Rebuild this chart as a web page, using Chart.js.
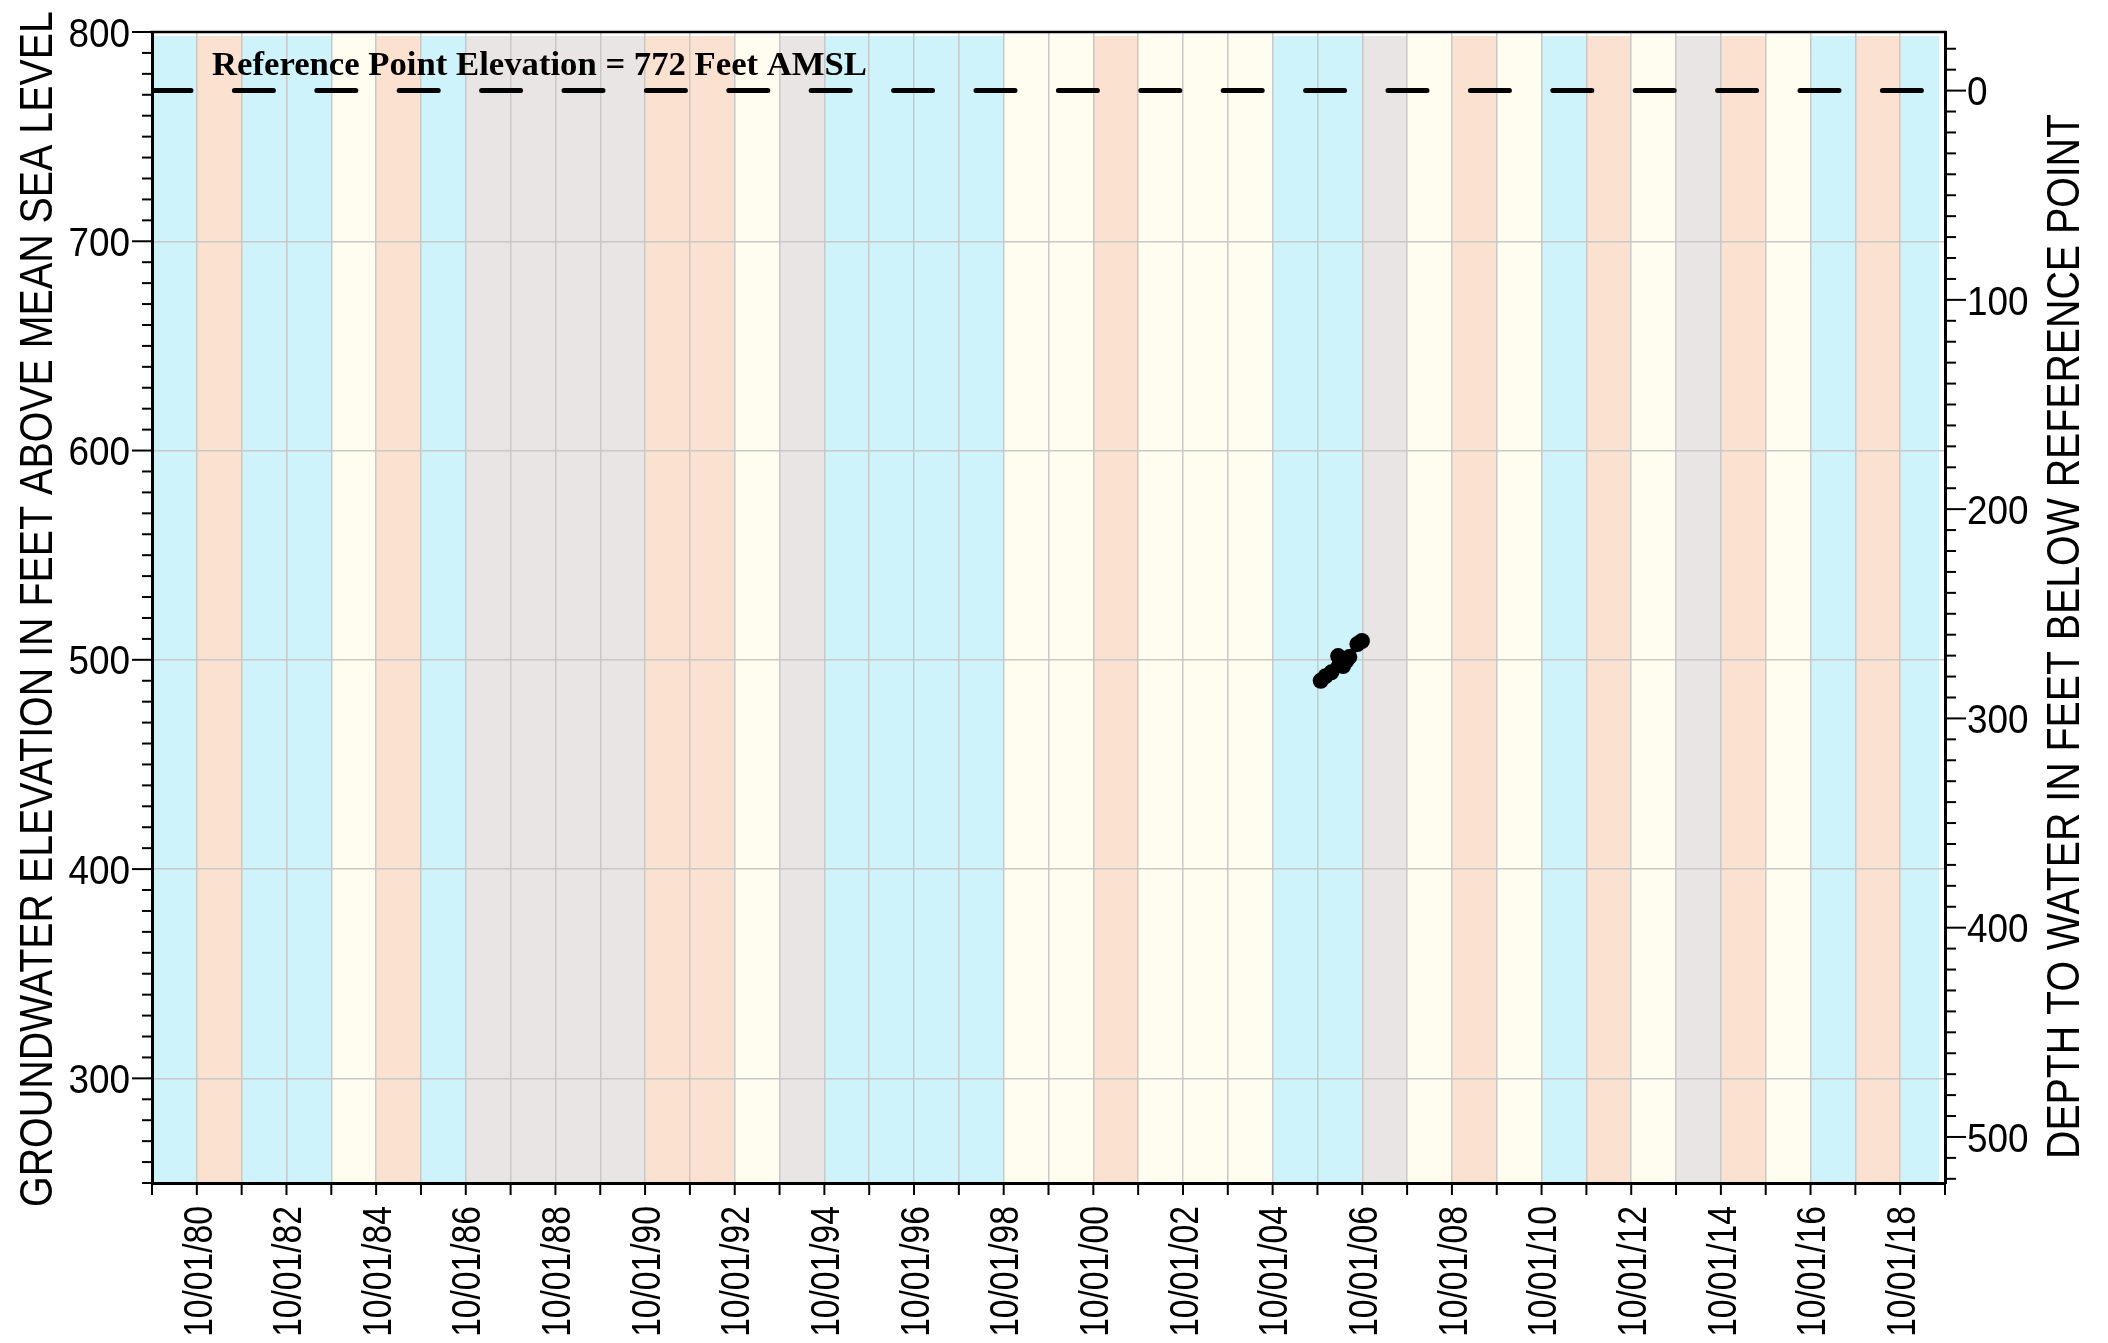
<!DOCTYPE html>
<html>
<head>
<meta charset="utf-8">
<script src="https://cdn.jsdelivr.net/npm/chart.js@4.4.1/dist/chart.umd.min.js"></script>
<style>
    html, body { margin: 0; padding: 0; background: #fff; }
    #wrap { width: 2108px; height: 1343px; position: relative; }
</style>
</head>
<body>
<div id="wrap"><canvas id="myChart"></canvas></div>
<script>
// Mesures de niveau d'eau (date, elevation en pieds AMSL)
const measureDates = ['10/27/05', '12/06/05', '01/22/06', '03/18/06', '04/28/06', '05/23/06', '06/17/06', '08/22/06', '09/28/06'];
const groundwaterElevation = [490.0, 492.2, 494.0, 501.8, 497.0, 499.4, 501.3, 507.5, 509.0];

// Elevation du point de reference
const referenceElevation = 772;
const referenceLabel = 'Reference Point Elevation = 772 Feet AMSL';

// Type d'annee hydrologique, une bande par annee a partir du 10/01/79
const waterYearType = ['B', 'O', 'B', 'B', 'Y', 'O', 'B', 'G', 'G', 'G',
                       'G', 'O', 'O', 'Y', 'G', 'B', 'B', 'B', 'B', 'Y',
                       'Y', 'O', 'Y', 'Y', 'Y', 'B', 'B', 'G', 'Y', 'O',
                       'Y', 'B', 'O', 'Y', 'G', 'O', 'Y', 'B', 'O', 'B'];

// Axes
const firstYear = 1979;
const leftMin = 250, leftMax = 800;
const leftTitle = 'GROUNDWATER ELEVATION IN FEET ABOVE MEAN SEA LEVEL';
const rightTitle = 'DEPTH TO WATER IN FEET BELOW REFERENCE POINT';

const bandColors = { B: '#cef3fb', O: '#fbe1d0', Y: '#fefdf0', G: '#eae5e5' };
const sans = "'Liberation Sans', Arial, sans-serif";
const labelSize = 41;

// annees ecoulees depuis le 10/01/79
function yearOffset(d) {
    const [m, dd, yy] = d.split('/').map(Number);
    const y = yy < 50 ? 2000 + yy : 1900 + yy;
    return (Date.UTC(y, m - 1, dd) - Date.UTC(firstYear, 9, 1)) / (365.25 * 864e5);
}

function xLabel(v) {
    return v % 2 === 1 ? '10/01/' + String((firstYear + v) % 100).padStart(2, '0') : '';
}

function line(ctx, x0, y0, x1, y1) {
    ctx.beginPath();
    ctx.moveTo(x0, y0);
    ctx.lineTo(x1, y1);
    ctx.stroke();
}

// valeurs de graduation tous les 10 pieds
function tensOf(scale) {
    const vals = [];
    for (let v = Math.ceil(scale.min / 10) * 10; v <= scale.max; v += 10) vals.push(v);
    return vals;
}

// texte etroit (police narrow simulee)
function narrowText(ctx, text, x, y, align, angle, sx) {
    ctx.save();
    ctx.translate(x, y);
    ctx.rotate(angle);
    ctx.scale(sx, 1);
    ctx.font = labelSize + 'px ' + sans;
    ctx.textAlign = align;
    ctx.textBaseline = 'alphabetic';
    ctx.fillStyle = '#000';
    ctx.fillText(text, 0, labelSize * 0.716 / 2);
    ctx.restore();
}

function fitText(ctx, text, cx, cy, angle, size, length) {
    ctx.save();
    ctx.font = size + 'px ' + sans;
    const w = ctx.measureText(text).width;
    ctx.translate(cx, cy);
    ctx.rotate(angle);
    ctx.scale(length / w, 1);
    ctx.textAlign = 'center';
    ctx.textBaseline = 'alphabetic';
    ctx.fillStyle = '#000';
    ctx.fillText(text, 0, size * 0.716 / 2);
    ctx.restore();
}

const decor = {
    id: 'decor',
    beforeDraw(chart) {
        const { ctx, chartArea: a, scales: { x } } = chart;
        ctx.save();
        waterYearType.forEach((t, i) => {
            const x0 = x.getPixelForValue(i);
            const x1 = Math.min(x.getPixelForValue(i + 1), a.right - 6);
            ctx.fillStyle = bandColors[t];
            ctx.fillRect(x0, a.top + 4, x1 - x0, a.bottom - a.top - 4);
        });
        ctx.restore();
    },
    afterDraw(chart) {
        const { ctx, chartArea: a, scales } = chart;
        ctx.save();
        ctx.strokeStyle = '#000';
        ctx.lineWidth = 2.5;
        line(ctx, a.left - 1.5, a.top, a.right + 1.5, a.top);
        ctx.lineWidth = 2;
        tensOf(scales.y).forEach(v => {
            const py = scales.y.getPixelForValue(v);
            line(ctx, a.left - (v % 100 === 0 ? 20 : 10), py, a.left, py);
            if (v % 100 === 0) narrowText(ctx, String(v), a.left - 22, py, 'right', 0, 0.9);
        });
        tensOf(scales.y2).forEach(v => {
            const py = scales.y2.getPixelForValue(v);
            line(ctx, a.right, py, a.right + (v % 100 === 0 ? 21 : 11), py);
            if (v % 100 === 0) narrowText(ctx, String(v), a.right + 22, py, 'left', 0, 0.9);
        });
        scales.x.ticks.forEach(t => {
            const px = scales.x.getPixelForValue(t.value);
            line(ctx, px, a.bottom, px, a.bottom + 12);
            const lab = xLabel(t.value);
            if (lab) narrowText(ctx, lab, px, a.bottom + 23, 'right', -Math.PI / 2, 0.82);
        });
        ctx.restore();

        fitText(ctx, leftTitle, 35, (a.top + a.bottom) / 2 + 1.5, -Math.PI / 2, 47, 1196);
        fitText(ctx, rightTitle, 2062, 636.5, -Math.PI / 2, 47, 1045);

        // texte du point de reference
        ctx.save();
        ctx.font = "bold 34px 'Liberation Serif', 'DejaVu Serif', serif";
        const w = ctx.measureText(referenceLabel).width;
        ctx.translate(212, 75);
        ctx.scale(655 / w, 1);
        ctx.fillStyle = '#000';
        ctx.textBaseline = 'alphabetic';
        ctx.fillText(referenceLabel, 0, 0);
        ctx.restore();
    }
};

function noPad(scale) {
    scale.paddingTop = 0;
    scale.paddingBottom = 0;
    scale.paddingLeft = 0;
    scale.paddingRight = 0;
}

const ctx = document.getElementById('myChart').getContext('2d');
const myChart = new Chart(ctx, {
    type: 'scatter',
    data: {
        datasets: [
            {
                data: measureDates.map((d, i) => ({ x: yearOffset(d), y: groundwaterElevation[i] })),
                showLine: true,
                borderColor: '#000',
                backgroundColor: '#000',
                borderWidth: 7,
                pointRadius: 8,
                pointBorderWidth: 0,
                yAxisID: 'y'
            },
            {
                data: [{ x: 0, y: referenceElevation }, { x: waterYearType.length, y: referenceElevation }],
                showLine: true,
                borderColor: '#000',
                borderWidth: 5,
                borderDash: [39, 43.4],
                borderCapStyle: 'round',
                pointRadius: 0,
                yAxisID: 'y'
            }
        ]
    },
    options: {
        responsive: true,
        maintainAspectRatio: false,
        animation: false,
        layout: { padding: { top: 32, left: 0, right: 0, bottom: 0 } },
        plugins: { legend: { display: false }, tooltip: { enabled: false } },
        scales: {
            x: {
                type: 'linear',
                position: 'bottom',
                min: 0,
                max: waterYearType.length,
                ticks: { stepSize: 1, autoSkip: false, display: false },
                grid: { color: '#c8c8c8', lineWidth: 1.5, drawTicks: false },
                border: { display: true, color: '#000', width: 3 },
                afterFit: s => { s.height = 160; noPad(s); }
            },
            y: {
                type: 'linear',
                position: 'left',
                min: leftMin,
                max: leftMax,
                ticks: { stepSize: 10, autoSkip: false, display: false },
                grid: {
                    drawTicks: false,
                    lineWidth: 1.5,
                    color: c => c.tick && c.tick.value % 100 === 0 ? '#c8c8c8' : 'rgba(0,0,0,0)'
                },
                border: { display: true, color: '#000', width: 3 },
                afterFit: s => { s.width = 152; noPad(s); }
            },
            y2: {
                type: 'linear',
                position: 'right',
                reverse: true,
                min: referenceElevation - leftMax,
                max: referenceElevation - leftMin,
                ticks: { stepSize: 10, autoSkip: false, display: false },
                grid: { drawOnChartArea: false, drawTicks: false },
                border: { display: true, color: '#000', width: 3 },
                afterFit: s => { s.width = 163; noPad(s); }
            }
        }
    },
    plugins: [decor]
});
</script>
</body>
</html>
